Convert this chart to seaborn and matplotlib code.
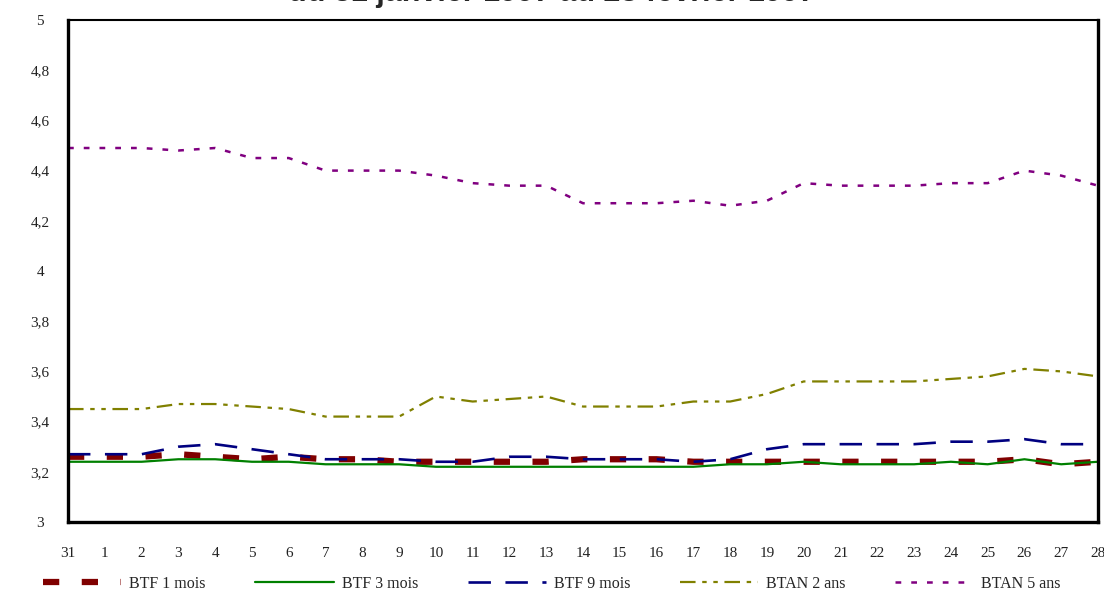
import matplotlib
matplotlib.use("Agg")
import matplotlib.pyplot as plt
import seaborn as sns
import pandas as pd

jours = ["31", "1", "2", "3", "4", "5", "6", "7", "8", "9", "10", "11", "12", "13", "14",
         "15", "16", "17", "18", "19", "20", "21", "22", "23", "24", "25", "26", "27", "28"]

btf_1m = [3.26, 3.26, 3.26, 3.27, 3.26, 3.25, 3.26, 3.25, 3.25, 3.24, 3.24, 3.24, 3.24, 3.24, 3.25,
          3.25, 3.25, 3.24, 3.24, 3.24, 3.24, 3.24, 3.24, 3.24, 3.24, 3.24, 3.25, 3.23, 3.24]
btf_3m = [3.24, 3.24, 3.24, 3.25, 3.25, 3.24, 3.24, 3.23, 3.23, 3.23, 3.22, 3.22, 3.22, 3.22, 3.22,
          3.22, 3.22, 3.22, 3.23, 3.23, 3.24, 3.23, 3.23, 3.23, 3.24, 3.23, 3.25, 3.23, 3.24]
btf_9m = [3.27, 3.27, 3.27, 3.30, 3.31, 3.29, 3.27, 3.25, 3.25, 3.25, 3.24, 3.24, 3.26, 3.26, 3.25,
          3.25, 3.25, 3.24, 3.25, 3.29, 3.31, 3.31, 3.31, 3.31, 3.32, 3.32, 3.33, 3.31, 3.31]
btan_2a = [3.45, 3.45, 3.45, 3.47, 3.47, 3.46, 3.45, 3.42, 3.42, 3.42, 3.50, 3.48, 3.49, 3.50, 3.46,
           3.46, 3.46, 3.48, 3.48, 3.51, 3.56, 3.56, 3.56, 3.56, 3.57, 3.58, 3.61, 3.60, 3.58]
btan_5a = [4.49, 4.49, 4.49, 4.48, 4.49, 4.45, 4.45, 4.40, 4.40, 4.40, 4.38, 4.35, 4.34, 4.34, 4.27,
           4.27, 4.27, 4.28, 4.26, 4.28, 4.35, 4.34, 4.34, 4.34, 4.35, 4.35, 4.40, 4.38, 4.34]

series = {
    "BTF 1 mois": btf_1m,
    "BTF 3 mois": btf_3m,
    "BTF 9 mois": btf_9m,
    "BTAN 2 ans": btan_2a,
    "BTAN 5 ans": btan_5a,
}
couleurs = {
    "BTF 1 mois": "#800000",
    "BTF 3 mois": "#008000",
    "BTF 9 mois": "#000080",
    "BTAN 2 ans": "#808000",
    "BTAN 5 ans": "#800080",
}
epaisseurs = {
    "BTF 1 mois": 4.5,
    "BTF 3 mois": 1.6,
    "BTF 9 mois": 1.9,
    "BTAN 2 ans": 1.6,
    "BTAN 5 ans": 1.8,
}
tirets = {
    "BTF 1 mois": (0, (2.6, 3.6)),
    "BTF 3 mois": "-",
    "BTF 9 mois": (0, (8.5, 5.5)),
    "BTAN 2 ans": (0, (7, 3, 2, 3, 2, 3)),
    "BTAN 5 ans": (0, (2.3, 4.0)),
}

rows = []
for nom, vals in series.items():
    for i, v in enumerate(vals):
        rows.append({"pos": i, "taux": v, "serie": nom})
df = pd.DataFrame(rows)

sns.set_theme(style="white")
plt.rcParams["font.family"] = ["Liberation Serif", "DejaVu Serif"]

fig = plt.figure(figsize=(11.04, 5.92), dpi=100)
ax = fig.add_axes([68 / 1104, 1 - 522 / 592, (1098 - 68) / 1104, (522 - 20) / 592])

handles = []
for nom in series:
    sub = df[df["serie"] == nom]
    sns.lineplot(data=sub, x="pos", y="taux", ax=ax, color=couleurs[nom],
                 linewidth=epaisseurs[nom], legend=False)
    ln = ax.get_lines()[-1]
    ln.set_linestyle(tirets[nom])
    ln.set_dash_capstyle("butt")
    handles.append(ln)

ax.set_xlim(0, len(jours) - 1)
ax.set_ylim(3, 5)
ax.set_xticks(range(len(jours)))
ax.set_xticklabels(jours)
yt = [3 + 0.2 * k for k in range(11)]
ax.set_yticks(yt)
ax.set_yticklabels([("%g" % round(v, 1)).replace(".", ",") for v in yt])
ax.set_xlabel("")
ax.set_ylabel("")

ax.tick_params(axis="x", direction="in", length=6, width=2, colors="black",
               labelsize=11, pad=18, labelcolor="#222222")
ax.tick_params(axis="y", direction="in", length=10, width=2, colors="black",
               labelsize=11, pad=20, labelcolor="#222222")
for lbl in ax.get_yticklabels():
    lbl.set_horizontalalignment("center")

for side in ["left", "bottom", "right"]:
    ax.spines[side].set_visible(True)
    ax.spines[side].set_color("black")
    ax.spines[side].set_linewidth(2.4)
ax.spines["top"].set_visible(True)
ax.spines["top"].set_color("black")
ax.spines["top"].set_linewidth(1.5)

fig.text(0.5, 1 - 1.0 / 592, "du 31 janvier 1997 au 28 février 1997",
         ha="center", va="baseline", fontsize=22, fontweight="bold",
         family=["Liberation Sans", "DejaVu Sans"])

fig.legend(handles, list(series.keys()), loc="center", bbox_to_anchor=(0.5, 1 - 584 / 592),
           ncol=5, frameon=False, fontsize=11.5, handlelength=4.9, handletextpad=0.5,
           columnspacing=3.1, borderaxespad=0)

fig.savefig("out.png", dpi=100)
